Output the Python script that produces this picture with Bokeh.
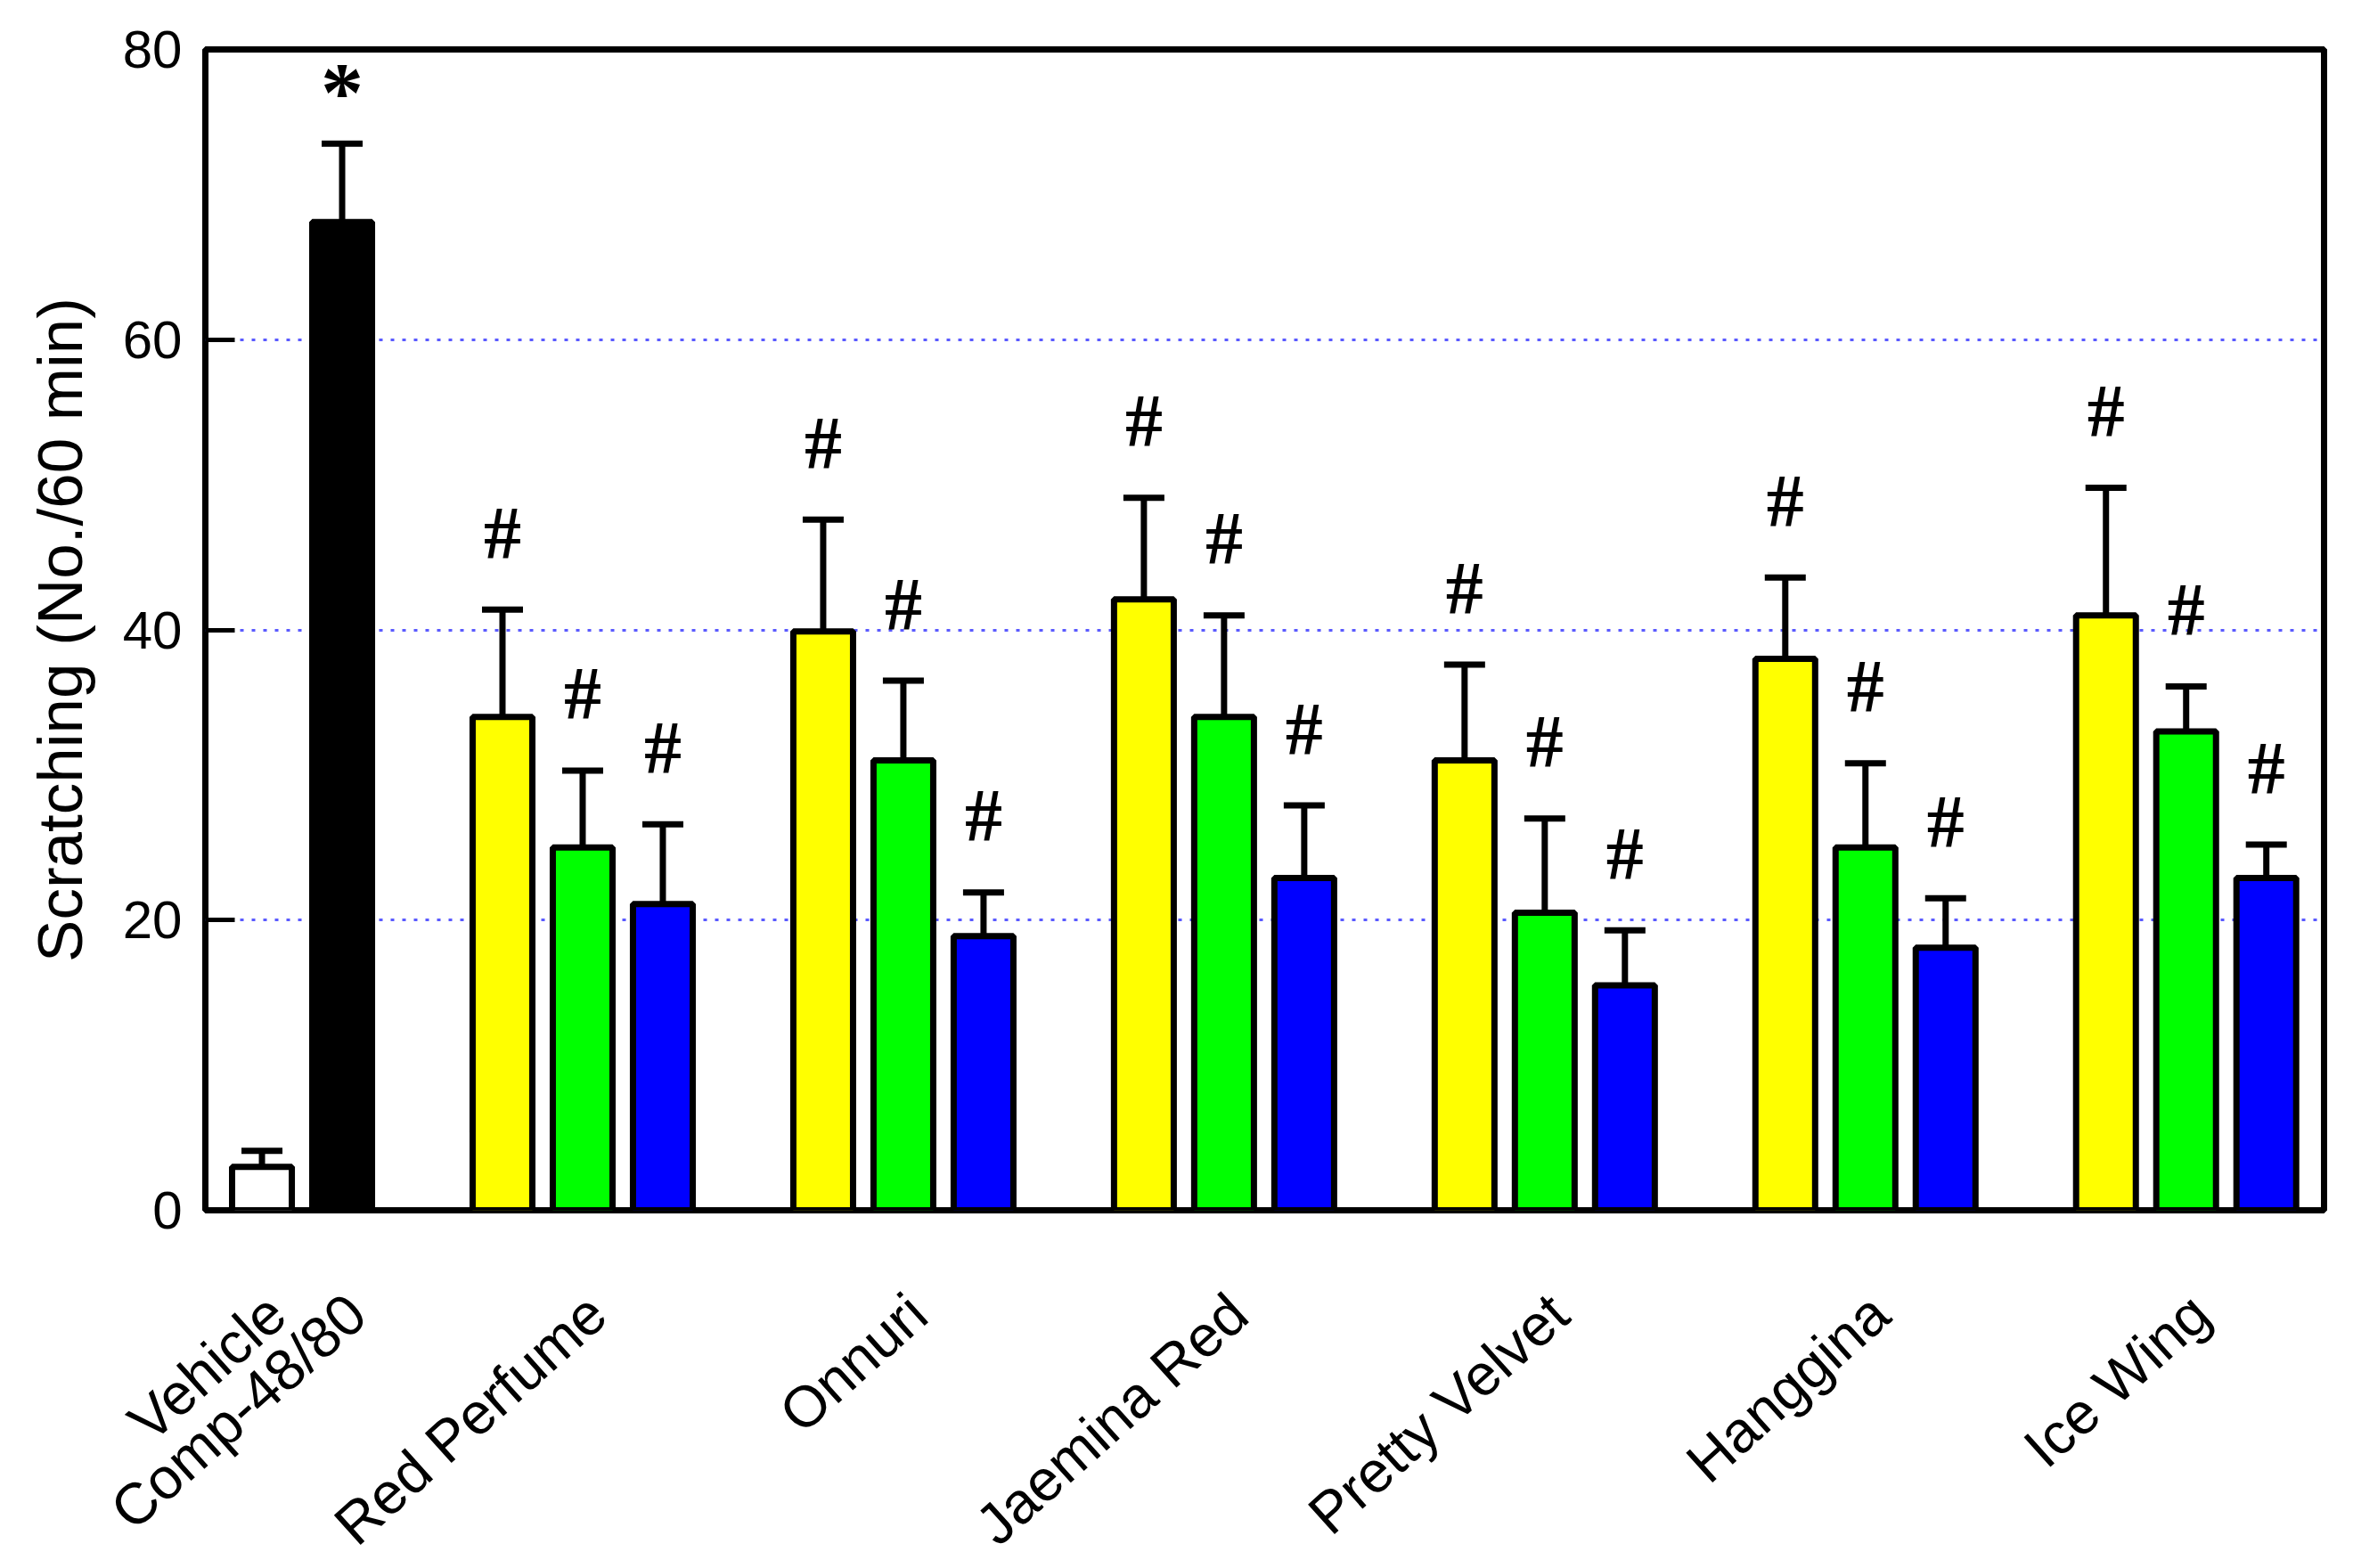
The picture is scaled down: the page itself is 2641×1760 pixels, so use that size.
import math

from bokeh.plotting import figure
from bokeh.models import (ColumnDataSource, Range1d, FixedTicker, Whisker, TeeHead,
                          LabelSet)
from bokeh.embed import file_html
from bokeh.resources import INLINE

# controls
control_labels = ["Vehicle", "Comp-48/80"]
control_mean = [3.0, 68.1]
control_sem = [1.1, 5.4]
control_mark = ["", "*"]

# extracts, three doses each
groups = ["Red Perfume", "Onnuri", "Jaemina Red", "Pretty Velvet", "Hanggina", "Ice Wing"]
dose1_mean = [34.0, 39.9, 42.1, 31.0, 38.0, 41.0]
dose1_sem = [7.4, 7.7, 7.0, 6.6, 5.6, 8.8]
dose2_mean = [25.0, 31.0, 34.0, 20.5, 25.0, 33.0]
dose2_sem = [5.3, 5.5, 7.0, 6.5, 5.8, 3.1]
dose3_mean = [21.1, 18.9, 22.9, 15.5, 18.1, 22.9]
dose3_sem = [5.5, 3.0, 5.0, 3.8, 3.4, 2.3]
group_mark = "#"

y_ticks = [0, 20, 40, 60, 80]

FONT = "Liberation Sans"
control_colors = ["white", "black"]
dose_colors = ["#ffff00", "#00ff00", "#0000ff"]
LABEL_SHIFT = 0.18  # rotated names end a little right of the bar centre

xs, tops, sems, colors, marks = [], [], [], [], []
for i in range(2):
    xs.append(i)
    tops.append(control_mean[i])
    sems.append(control_sem[i])
    colors.append(control_colors[i])
    marks.append(control_mark[i])
for g in range(len(groups)):
    for d, (m, s) in enumerate([(dose1_mean, dose1_sem), (dose2_mean, dose2_sem),
                                (dose3_mean, dose3_sem)]):
        xs.append(3 + 4 * g + d)
        tops.append(m[g])
        sems.append(s[g])
        colors.append(dose_colors[d])
        marks.append(group_mark)

upper = [t + s for t, s in zip(tops, sems)]
src = ColumnDataSource(dict(x=xs, top=tops, upper=upper, color=colors))


def mark_source(sym):
    idx = [i for i, m in enumerate(marks) if m == sym]
    return ColumnDataSource(dict(x=[xs[i] for i in idx],
                                 y=[upper[i] for i in idx],
                                 t=[marks[i] for i in idx]))


label_x = [0, 1] + [4 + 4 * g for g in range(len(groups))]
label_txt = control_labels + groups
tick_x = [x + LABEL_SHIFT for x in label_x]

p = figure(width=2623, height=1744, output_backend="svg", toolbar_location=None,
           x_range=Range1d(-0.706, 25.72), y_range=Range1d(0, 80),
           min_border_left=230, min_border_top=55, min_border_right=15,
           min_border_bottom=386)
p.frame_width = 2378
p.frame_height = 1303

p.background_fill_color = "white"
p.border_fill_color = "white"
p.outline_line_color = "black"
p.outline_line_width = 7

p.vbar(x="x", top="top", bottom=0, width=0.745, source=src,
       fill_color="color", line_color="black", line_width=7)

p.add_layout(Whisker(source=src, base="x", upper="upper", lower="top",
                     dimension="height", line_color="black", line_width=7,
                     lower_head=None,
                     upper_head=TeeHead(size=46, line_color="black", line_width=7),
                     level="overlay"))

p.add_layout(LabelSet(source=mark_source("#"), x="x", y="y", text="t", y_offset=86,
                      text_align="center", text_baseline="middle",
                      text_font=FONT, text_font_style="bold",
                      text_font_size="84px", text_color="black"))
p.add_layout(LabelSet(source=mark_source("*"), x="x", y="y", text="t", y_offset=58,
                      text_align="center", text_baseline="middle",
                      text_font=FONT, text_font_style="bold",
                      text_font_size="96px", text_color="black"))

xax = p.xaxis[0]
xax.ticker = FixedTicker(ticks=tick_x, minor_ticks=[])
xax.major_label_overrides = {x: t for x, t in zip(tick_x, label_txt)}
xax.major_label_orientation = math.radians(42)
xax.axis_line_color = None
xax.major_tick_line_color = None
xax.minor_tick_line_color = None
xax.major_tick_in = 0
xax.major_tick_out = 0
xax.major_label_standoff = 106
xax.major_label_text_font = FONT
xax.major_label_text_font_size = "65px"
xax.major_label_text_color = "black"
p.xgrid.visible = False

yax = p.yaxis[0]
yax.ticker = FixedTicker(ticks=y_ticks, minor_ticks=[])
yax.axis_line_color = None
yax.major_tick_in = 33
yax.major_tick_out = 0
yax.major_tick_line_width = 5
yax.major_tick_line_color = "black"
yax.minor_tick_line_color = None
yax.major_label_standoff = 26
yax.major_label_text_font = FONT
yax.major_label_text_font_size = "60px"
yax.major_label_text_color = "black"
yax.axis_label = "Scratching (No./60 min)"
yax.axis_label_text_font = FONT
yax.axis_label_text_font_size = "71px"
yax.axis_label_text_font_style = "normal"
yax.axis_label_text_color = "black"
yax.axis_label_standoff = 28

p.ygrid.ticker = FixedTicker(ticks=y_ticks)
p.ygrid.grid_line_color = "#5a5aff"
p.ygrid.grid_line_width = 3
p.ygrid.grid_line_dash = "4 9"

open("out.html", "w").write(file_html(p, INLINE))
